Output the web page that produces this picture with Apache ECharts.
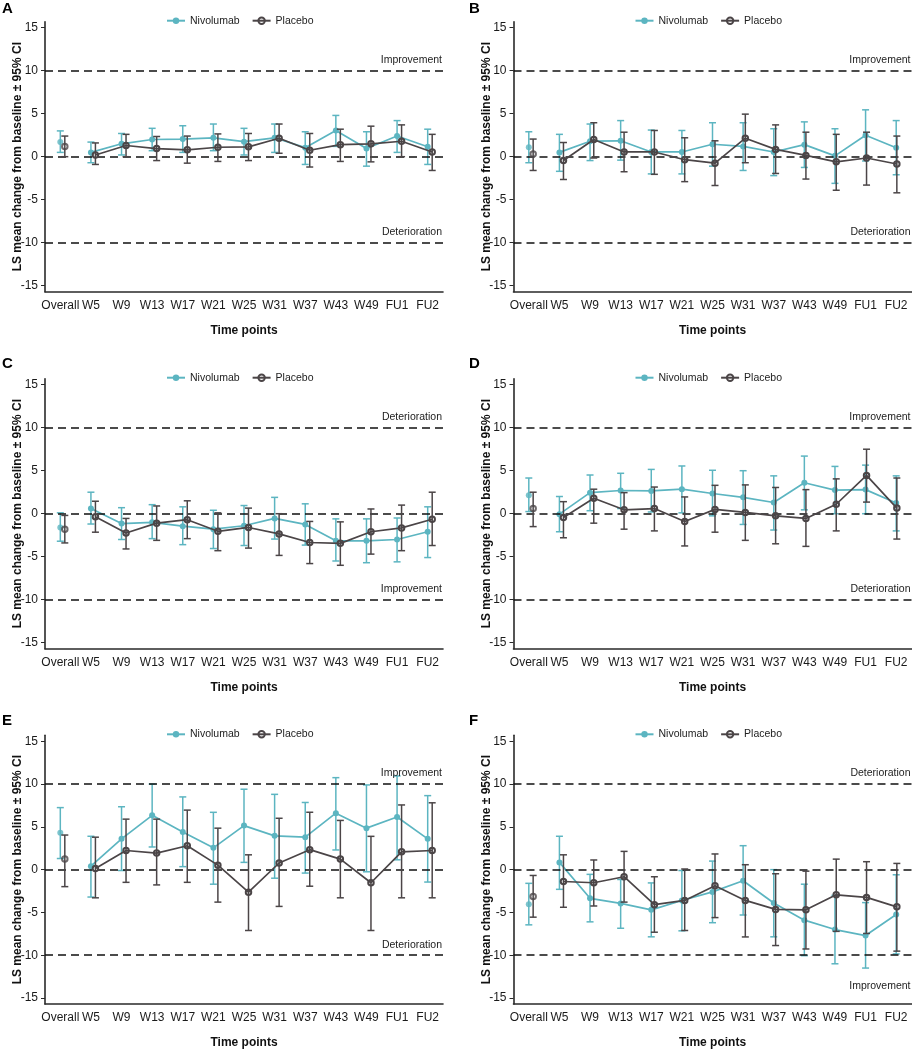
<!DOCTYPE html>
<html>
<head>
<meta charset="utf-8">
<script src="https://cdn.jsdelivr.net/npm/echarts@6/dist/echarts.min.js"></script>
<style>
html,body{margin:0;padding:0;background:#fff;}
#chart{width:912px;height:1050px;}
</style>
</head>
<body>
<div id="chart"></div>
<script>
const categories = ['Overall','W5','W9','W13','W17','W21','W25','W31','W37','W43','W49','FU1','FU2'];
const yTicks = [-15,-10,-5,0,5,10,15];
const panelLabels = ['A','B','C','D','E','F'];
const seriesNames = ['Nivolumab','Placebo'];

// Panel A
const A_nivMean = [1.7,0.5,1.5,2.0,2.05,2.2,1.75,2.2,1.05,3.05,0.95,2.4,1.15];
const A_nivLow  = [0.5,-0.7,0.2,0.7,0.5,0.7,0.2,0.5,-0.9,1.2,-1.1,0.5,-0.9];
const A_nivHigh = [3.0,1.7,2.7,3.3,3.6,3.8,3.3,3.8,2.9,4.8,2.9,4.2,3.2];
const A_plaMean = [1.2,0.2,1.3,0.95,0.8,1.1,1.15,2.15,0.75,1.4,1.5,1.8,0.55];
const A_plaLow  = [0.0,-0.9,0.0,-0.45,-0.75,-0.55,-0.45,0.4,-1.2,-0.55,-0.6,0.0,-1.6];
const A_plaHigh = [2.4,1.6,2.6,2.35,2.4,2.65,2.7,3.8,2.7,3.2,3.55,3.7,2.6];
const A_refLabels = ['Improvement','Deterioration'];

// Panel B
const B_nivMean = [1.1,0.5,1.8,1.85,0.55,0.55,1.45,1.2,0.55,1.4,0.1,2.5,1.05];
const B_nivLow  = [-0.7,-1.7,-0.45,-0.4,-2.0,-2.0,-1.1,-1.6,-2.2,-1.25,-3.1,-0.5,-2.1];
const B_nivHigh = [2.9,2.6,3.8,4.2,3.1,3.05,3.95,3.95,3.25,4.05,3.25,5.45,4.2];
const B_plaMean = [0.3,-0.45,2.0,0.55,0.55,-0.35,-0.75,2.15,0.85,0.15,-0.6,-0.15,-0.85];
const B_plaLow  = [-1.6,-2.65,-0.15,-1.75,-2.05,-2.9,-3.35,-0.7,-1.95,-2.6,-3.9,-3.3,-4.2];
const B_plaHigh = [2.05,1.65,3.95,2.85,3.05,2.2,1.85,4.95,3.7,2.85,2.6,2.85,2.4];
const B_refLabels = ['Improvement','Deterioration'];

// Panel C
const C_nivMean = [-1.6,0.6,-1.15,-1.0,-1.45,-1.8,-1.4,-0.55,-1.25,-3.15,-3.15,-3.0,-2.1];
const C_nivLow  = [-3.2,-1.2,-3.0,-2.9,-3.6,-4.05,-3.7,-2.95,-3.65,-5.5,-5.7,-5.6,-5.1];
const C_nivHigh = [0.1,2.5,0.7,1.05,0.8,0.4,0.95,1.9,1.15,-0.6,-0.6,-0.5,0.8];
const C_plaMean = [-1.8,-0.35,-2.25,-1.1,-0.7,-2.05,-1.6,-2.35,-3.35,-3.45,-2.1,-1.65,-0.65];
const C_plaLow  = [-3.4,-2.15,-4.1,-3.1,-2.9,-4.3,-4.0,-4.85,-5.8,-6.0,-4.7,-4.3,-3.7];
const C_plaHigh = [-0.2,1.45,-0.55,0.9,1.5,0.1,0.65,0.0,-0.9,-0.95,0.55,1.0,2.5];
const C_refLabels = ['Deterioration','Improvement'];

// Panel D
const D_nivMean = [2.15,-0.05,2.45,2.7,2.65,2.85,2.35,1.9,1.3,3.6,2.75,2.8,1.25];
const D_nivLow  = [0.25,-2.1,0.35,0.6,0.2,0.1,-0.25,-1.25,-1.9,0.45,0.0,0.0,-2.0];
const D_nivHigh = [4.15,2.0,4.5,4.7,5.15,5.55,5.05,5.0,4.4,6.7,5.5,5.65,4.4];
const D_plaMean = [0.6,-0.45,1.8,0.45,0.6,-0.9,0.5,0.15,-0.25,-0.55,1.1,4.45,0.65];
const D_plaLow  = [-1.5,-2.8,-1.1,-1.8,-2.0,-3.75,-2.15,-3.1,-3.5,-3.8,-2.0,1.35,-2.95];
const D_plaHigh = [2.5,1.4,2.85,2.45,3.1,1.95,3.3,3.35,3.05,2.8,4.05,7.5,4.15];
const D_refLabels = ['Improvement','Deterioration'];

// Panel E
const E_nivMean = [4.3,0.4,3.6,6.35,4.4,2.55,5.15,3.95,3.8,6.6,4.85,6.15,3.6];
const E_nivLow  = [1.3,-3.2,-0.1,2.65,0.35,-1.7,0.85,-1.0,-0.4,2.3,-0.25,1.15,-1.45];
const E_nivHigh = [7.25,3.9,7.35,10.0,8.5,6.7,9.4,8.8,7.85,10.75,9.9,10.95,8.65];
const E_plaMean = [1.3,0.2,2.3,2.0,2.85,0.6,-2.55,0.85,2.4,1.3,-1.45,2.15,2.3];
const E_plaLow  = [-1.9,-3.2,-1.4,-1.7,-1.4,-3.7,-7.0,-4.2,-1.85,-3.2,-7.0,-3.2,-3.2];
const E_plaHigh = [4.1,3.85,5.95,5.95,7.0,4.9,1.8,6.05,6.75,5.8,3.95,7.6,7.85];
const E_refLabels = ['Improvement','Deterioration'];

// Panel F
const F_nivMean = [-4.05,0.85,-3.35,-3.95,-4.7,-3.6,-2.6,-1.3,-3.9,-5.9,-7.0,-7.7,-5.25];
const F_nivLow  = [-6.45,-2.3,-6.1,-6.85,-7.85,-7.15,-6.2,-5.3,-7.85,-10.05,-11.0,-11.5,-9.85];
const F_nivHigh = [-1.6,3.9,-0.55,-1.15,-1.55,-0.1,1.0,2.8,0.0,-1.7,-3.0,-3.85,-0.6];
const F_plaMean = [-3.05,-1.3,-1.45,-0.75,-4.0,-3.5,-1.8,-3.5,-4.55,-4.6,-2.85,-3.15,-4.25];
const F_plaLow  = [-5.45,-4.3,-4.15,-3.7,-7.2,-7.0,-5.5,-7.75,-8.75,-9.15,-7.1,-7.35,-9.4];
const F_plaHigh = [-0.6,1.8,1.2,2.2,-0.75,0.15,1.9,0.65,-0.4,-0.1,1.3,1.0,0.8];
const F_refLabels = ['Deterioration','Improvement'];

const refValues = [10, 0, -10];

const panels = [
  {niv:[A_nivMean,A_nivLow,A_nivHigh], pla:[A_plaMean,A_plaLow,A_plaHigh], ref:A_refLabels},
  {niv:[B_nivMean,B_nivLow,B_nivHigh], pla:[B_plaMean,B_plaLow,B_plaHigh], ref:B_refLabels},
  {niv:[C_nivMean,C_nivLow,C_nivHigh], pla:[C_plaMean,C_plaLow,C_plaHigh], ref:C_refLabels},
  {niv:[D_nivMean,D_nivLow,D_nivHigh], pla:[D_plaMean,D_plaLow,D_plaHigh], ref:D_refLabels},
  {niv:[E_nivMean,E_nivLow,E_nivHigh], pla:[E_plaMean,E_plaLow,E_plaHigh], ref:E_refLabels},
  {niv:[F_nivMean,F_nivLow,F_nivHigh], pla:[F_plaMean,F_plaLow,F_plaHigh], ref:F_refLabels, bottomBelow:true}
];

// ---- layout / style ----
const FONT = 'Liberation Sans, Arial, Helvetica, sans-serif';
const TEAL = '#5cb5c1';
const DARK = '#4b4547';
const AXIS = '#2a2a2a';
const colLeft = [45, 513.5];
const rowTop = [21.7, 378.7, 735.3];
const plotW = 398, plotH = 270;
const shift = 4.5;

function errorBar(color){
  return function(params, api){
    const x = api.value(0);
    const lo = api.coord([x, api.value(1)]);
    const hi = api.coord([x, api.value(2)]);
    const hw = 3.5;
    const st = {stroke: color, lineWidth: 1.5};
    return {type:'group', children:[
      {type:'line', shape:{x1:lo[0],y1:lo[1],x2:hi[0],y2:hi[1]}, style:st},
      {type:'line', shape:{x1:hi[0]-hw,y1:hi[1],x2:hi[0]+hw,y2:hi[1]}, style:st},
      {type:'line', shape:{x1:lo[0]-hw,y1:lo[1],x2:lo[0]+hw,y2:lo[1]}, style:st}
    ]};
  };
}

const grid=[], xAxis=[], yAxis=[], series=[], legend=[], title=[];

panels.forEach((p, i) => {
  const col = i % 2, row = Math.floor(i / 2);
  const L = colLeft[col], T = rowTop[row];
  const gMain = 2*i, gShift = 2*i+1;
  grid.push({left:L, top:T, width:plotW, height:plotH});
  grid.push({left:L+shift, top:T, width:plotW, height:plotH});

  xAxis.push({
    type:'category', gridIndex:gMain, data:categories, boundaryGap:true,
    axisLine:{onZero:false, lineStyle:{color:AXIS, width:1.6}},
    axisTick:{alignWithLabel:true, length:4, lineStyle:{color:AXIS, width:1}},
    axisLabel:{interval:0, fontSize:12, color:'#1a1a1a', margin:8, fontFamily:FONT},
    name:'Time points', nameLocation:'middle', nameGap:33, nameMoveOverlap:false,
    nameTextStyle:{fontSize:12, fontWeight:'bold', color:'#111', fontFamily:FONT}
  });
  xAxis.push({type:'category', gridIndex:gShift, data:categories, boundaryGap:true, show:false,
    axisLine:{onZero:false}});

  yAxis.push({
    type:'value', gridIndex:gMain, min:-15.7, max:15.7,
    axisLine:{show:true, onZero:false, lineStyle:{color:AXIS, width:1.6}},
    axisTick:{show:true, length:4, customValues:yTicks, lineStyle:{color:AXIS, width:1}},
    axisLabel:{customValues:yTicks, fontSize:12, color:'#1a1a1a', margin:7, fontFamily:FONT},
    splitLine:{show:false},
    name:'LS mean change from baseline ± 95% CI', nameLocation:'middle', nameGap:21, nameRotate:90,
    nameMoveOverlap:false,
    nameTextStyle:{fontSize:12, fontWeight:'bold', color:'#111', fontFamily:FONT}
  });
  yAxis.push({type:'value', gridIndex:gShift, min:-15.7, max:15.7, show:false,
    axisLine:{onZero:false}});

  // reference dashed lines
  const refData = refValues.map(v => {
    let lbl = {show:false};
    if (v === 10) lbl = {show:true, formatter:p.ref[0], position:'insideEndTop', distance:[1,5]};
    if (v === -10) lbl = p.bottomBelow
      ? {show:true, formatter:p.ref[1], position:'insideEndBottom', distance:[1,25]}
      : {show:true, formatter:p.ref[1], position:'insideEndTop', distance:[1,5]};
    return {yAxis:v, label:lbl};
  });
  series.push({
    type:'line', name:'ref'+i, xAxisIndex:gMain, yAxisIndex:gMain, data:[], z:1,
    markLine:{
      silent:true, symbol:'none', animation:false,
      lineStyle:{type:[8,5], color:'#111', width:1.6},
      label:{fontSize:10.5, color:'#222', fontFamily:FONT},
      data:refData
    }
  });

  const groups = [
    {name:seriesNames[0], vals:p.niv, ax:gMain, color:TEAL, z:2,
     sym:{symbol:'circle', symbolSize:6, itemStyle:{color:TEAL}}},
    {name:seriesNames[1], vals:p.pla, ax:gShift, color:DARK, z:5,
     sym:{symbol:'circle', symbolSize:5.5, itemStyle:{color:'rgba(255,255,255,0)', borderColor:DARK, borderWidth:2}}}
  ];
  groups.forEach(g => {
    const [mean, low, high] = g.vals;
    series.push({
      type:'custom', name:g.name+' CI', xAxisIndex:g.ax, yAxisIndex:g.ax, z:g.z,
      renderItem:errorBar(g.color), encode:{x:0, y:[1,2]},
      data:categories.map((c,j)=>[j, low[j], high[j]])
    });
    series.push(Object.assign({
      type:'line', name:g.name, xAxisIndex:g.ax, yAxisIndex:g.ax, z:g.z+1,
      lineStyle:{color:g.color, width:1.7}, showSymbol:true,
      data:mean.map((v,j)=> j===0 ? '-' : v)
    }, g.sym));
    series.push(Object.assign({
      type:'scatter', name:g.name, xAxisIndex:g.ax, yAxisIndex:g.ax, z:g.z+1,
      data:[[0, mean[0]]]
    }, g.sym));
  });

  legend.push({
    data:seriesNames, left:L+116, top:T-11.5, itemWidth:18, itemHeight:8, itemGap:12,
    textStyle:{fontSize:10.5, color:'#222', fontFamily:FONT}, selectedMode:false
  });
  title.push({
    text:panelLabels[i], left:(col===0?2:469), top:(row===0?1:(row===1?356:713)), padding:0,
    textStyle:{fontSize:15, fontWeight:'bold', color:'#000', fontFamily:FONT}
  });
});

const chart = echarts.init(document.getElementById('chart'), null, {renderer:'canvas'});
chart.setOption({
  animation:false,
  textStyle:{fontFamily:FONT},
  title, legend, grid, xAxis, yAxis, series
});
</script>
</body>
</html>
